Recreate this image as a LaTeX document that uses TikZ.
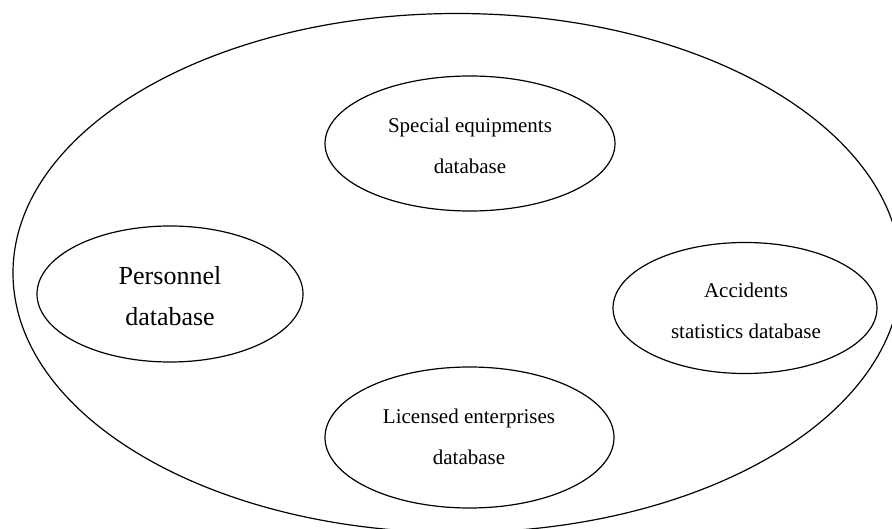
\documentclass[tikz,border=0pt]{standalone}
\usepackage{fontspec}
\setmainfont{Liberation Serif}
\usetikzlibrary{shapes.geometric}
\tikzset{
  outline/.style={draw=black, line width=1.2pt, ellipse, inner sep=0pt},
  dbtext/.style={anchor=base, inner sep=0pt, font=\fontsize{21}{25}\selectfont},
  bigtext/.style={anchor=base, inner sep=0pt, font=\fontsize{26}{30}\selectfont},
}
\begin{document}
\begin{tikzpicture}[x=1pt, y=-1pt]
  \useasboundingbox (0,0) rectangle (892,529);
  % system boundary
  \node[outline, minimum width=888pt, minimum height=519pt] (sys) at (457,273) {};
  % component databases
  \node[outline, minimum width=290pt, minimum height=135pt] (se) at (470,143.5) {};
  \node[outline, minimum width=266pt, minimum height=136pt] (pe) at (170,294) {};
  \node[outline, minimum width=264pt, minimum height=131pt] (ae) at (745,308) {};
  \node[outline, minimum width=289pt, minimum height=141pt] (le) at (469.5,437.5) {};
  % labels
  \node[dbtext] (se1) at (470,133) {Special equipments};
  \node[dbtext] (se2) at (470,174) {database};
  \node[bigtext] (pe1) at (170,284.3) {Personnel};
  \node[bigtext] (pe2) at (170,326) {database};
  \node[dbtext] (ae1) at (746,297.7) {Accidents};
  \node[dbtext] (ae2) at (746,338.3) {statistics database};
  \node[dbtext] (le1) at (469,424) {Licensed enterprises};
  \node[dbtext] (le2) at (469,464.3) {database};
\end{tikzpicture}
\end{document}
